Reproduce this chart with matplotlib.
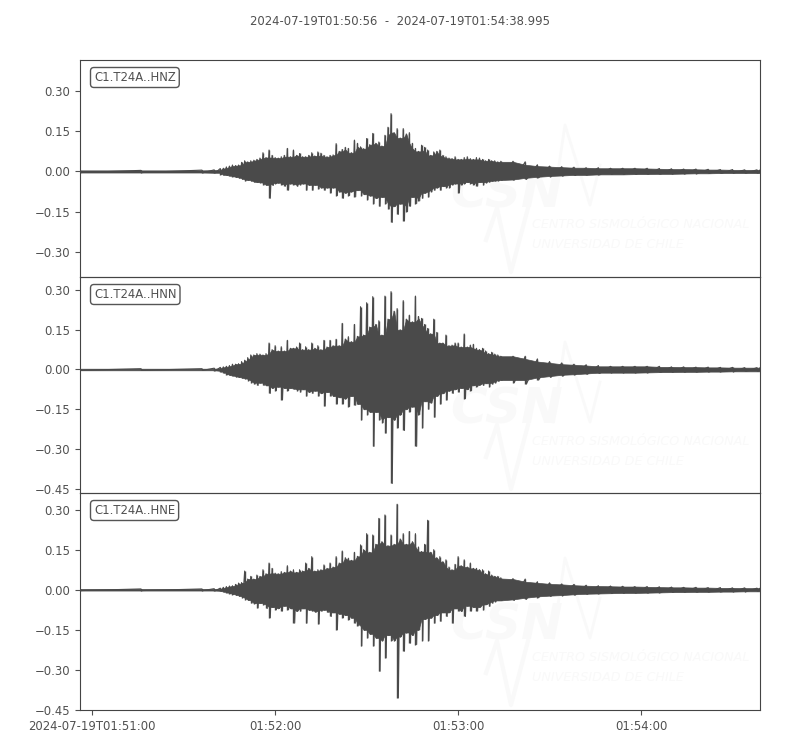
#!/usr/bin/env python3
import numpy as np
import matplotlib
matplotlib.use("Agg")
import matplotlib.pyplot as plt
from matplotlib.lines import Line2D

TRACE = "#4a4a4a"
TEXT = "#505050"
MARK = "#f9f9f9"

title = "2024-07-19T01:50:56  -  2024-07-19T01:54:38.995"
stations = ["C1.T24A..HNZ", "C1.T24A..HNN", "C1.T24A..HNE"]
time_ticks = [4, 64, 124, 184]
time_labels = ["2024-07-19T01:51:00", "01:52:00", "01:53:00", "01:54:00"]

# seconds after 01:50:56, envelope
seconds = ([0, 20, 40, 44] + list(range(46, 140, 2))
           + list(range(142, 224, 4)) + [223])
seconds_odd = list(range(47, 139, 2))

hnz_up = [.004, .004, .005, .006,
          .011, .017, .024, .024, .04, .04, .045, .07, .08, .052,
          .055, .086, .08, .067, .055, .07, .073, .06, .06, .104,
          .082, .086, .117, .092, .123, .142, .11, .135, .216, .16,
          .16, .145, .086, .098, .08, .073, .08, .055, .048, .045,
          .052, .048, .052, .045, .045, .04, .038,
          .038, .036, .025, .02, .018, .016, .014, .014, .012, .012, .012,
          .012, .011, .01, .009, .009, .008, .007, .007, .006, .006, .006]
hnz_lo = [-.004, -.004, -.005, -.005,
          -.012, -.015, -.02, -.025, -.035, -.037, -.04, -.05, -.10, -.045,
          -.05, -.07, -.05, -.05, -.07, -.07, -.065, -.07, -.08, -.09,
          -.10, -.09, -.095, -.09, -.105, -.12, -.13, -.12, -.19, -.16,
          -.185, -.13, -.12, -.10, -.095, -.07, -.07, -.06, -.05, -.08,
          -.045, -.045, -.055, -.05, -.04, -.035, -.033,
          -.032, -.03, -.024, -.02, -.017, -.015, -.013, -.013, -.011, -.011,
          -.011, -.01, -.01, -.009, -.009, -.008, -.007, -.007, -.006, -.006,
          -.006, -.006]
hnz_up_odd = [.012, .02, .022, .034, .036, .042, .05, .052, .06, .05,
              .06, .055, .06, .055, .06, .058, .068, .055, .062, .075,
              .09, .07, .105, .085, .10, .105, .095, .165, .145, .125,
              .14, .105, .075, .09, .06, .075, .06, .05, .055, .045,
              .055, .045, .05, .04, .04, .036]
hnz_lo_odd = [-.013, -.017, -.022, -.03, -.032, -.04, -.042, -.05, -.052, -.042,
              -.055, -.045, -.055, -.045, -.05, -.05, -.06, -.06, -.06, -.075,
              -.08, -.075, -.07, -.085, -.09, -.10, -.095, -.14, -.13, -.12,
              -.15, -.095, -.11, -.08, -.075, -.06, -.055, -.06, -.045, -.05,
              -.04, -.05, -.04, -.042, -.036, -.034]

hnn_up = [.003, .003, .003, .005,
          .008, .012, .02, .022, .035, .055, .06, .055, .10, .09,
          .086, .11, .08, .10, .086, .10, .09, .11, .11, .114,
          .174, .124, .17, .237, .252, .275, .184, .277, .294, .23,
          .26, .205, .277, .193, .155, .19, .10, .13, .092, .10,
          .134, .092, .08, .08, .06, .058, .05,
          .05, .05, .04, .03, .025, .02, .018, .015, .012, .012, .012,
          .012, .012, .01, .01, .009, .009, .008, .008, .007, .007, .007]
hnn_lo = [-.003, -.003, -.003, -.005,
          -.01, -.02, -.025, -.03, -.035, -.05, -.06, -.06, -.09, -.08,
          -.115, -.08, -.075, -.085, -.10, -.09, -.10, -.138, -.10, -.13,
          -.13, -.14, -.135, -.19, -.17, -.29, -.19, -.24, -.43, -.22,
          -.23, -.16, -.29, -.22, -.15, -.18, -.13, -.115, -.09, -.085,
          -.11, -.08, -.065, -.06, -.065, -.05, -.04,
          -.05, -.055, -.04, -.03, -.025, -.02, -.018, -.015, -.012, -.012,
          -.012, -.012, -.011, -.01, -.01, -.009, -.009, -.008, -.008, -.007,
          -.007, -.007]
hnn_up_odd = [.01, .015, .02, .03, .045, .055, .058, .06, .075, .07,
              .07, .08, .085, .075, .075, .08, .075, .085, .09, .09,
              .115, .105, .125, .13, .16, .17, .13, .19, .22, .15,
              .19, .18, .20, .17, .135, .14, .10, .09, .10, .085,
              .085, .095, .075, .07, .065, .055]
hnn_lo_odd = [-.014, -.022, -.028, -.033, -.042, -.055, -.05, -.06, -.07, -.065,
              -.07, -.07, -.08, -.075, -.085, -.08, -.09, -.085, -.10, -.105,
              -.11, -.10, -.13, -.15, -.16, -.16, -.20, -.18, -.19, -.17,
              -.15, -.14, -.17, -.12, -.125, -.10, -.09, -.08, -.075, -.07,
              -.075, -.06, -.058, -.052, -.055, -.045]

hne_up = [.003, .003, .003, .004,
          .006, .012, .015, .025, .07, .05, .055, .075, .10, .062,
          .068, .09, .075, .075, .10, .124, .075, .093, .10, .124,
          .145, .118, .14, .168, .21, .205, .267, .28, .205, .32,
          .21, .218, .21, .143, .26, .15, .124, .112, .075, .124,
          .112, .10, .08, .075, .07, .05, .045,
          .042, .04, .03, .026, .022, .02, .017, .015, .014, .013, .012,
          .012, .011, .01, .009, .009, .008, .008, .007, .007, .006, .006]
hne_lo = [-.003, -.003, -.003, -.004,
          -.006, -.012, -.018, -.025, -.037, -.05, -.068, -.056, -.105, -.075,
          -.08, -.075, -.125, -.08, -.125, -.08, -.128, -.075, -.10, -.15,
          -.105, -.112, -.125, -.21, -.18, -.21, -.305, -.255, -.19, -.405,
          -.23, -.20, -.205, -.19, -.19, -.125, -.118, -.10, -.125, -.08,
          -.10, -.08, -.08, -.075, -.062, -.044, -.04,
          -.04, -.036, -.03, -.025, -.022, -.02, -.017, -.015, -.014, -.013,
          -.012, -.012, -.011, -.01, -.009, -.009, -.008, -.008, -.007, -.007,
          -.006, -.006]
hne_up_odd = [.009, .014, .02, .027, .04, .04, .05, .06, .08, .06,
              .065, .07, .065, .07, .08, .07, .075, .08, .085, .10,
              .12, .11, .125, .15, .14, .17, .18, .165, .17, .19,
              .17, .18, .16, .17, .14, .12, .105, .085, .095, .09,
              .085, .08, .075, .06, .055, .05]
hne_lo_odd = [-.009, -.015, -.021, -.03, -.04, -.052, -.05, -.07, -.065, -.07,
              -.06, -.07, -.08, -.07, -.075, -.085, -.08, -.085, -.085, -.09,
              -.095, -.105, -.135, -.15, -.165, -.18, -.19, -.17, -.19, -.175,
              -.16, -.17, -.15, -.11, -.105, -.095, -.085, -.085, -.07, -.08,
              -.06, -.065, -.065, -.055, -.05, -.04]

ups = [hnz_up, hnn_up, hne_up]
los = [hnz_lo, hnn_lo, hne_lo]
ups_odd = [hnz_up_odd, hnn_up_odd, hne_up_odd]
los_odd = [hnz_lo_odd, hnn_lo_odd, hne_lo_odd]
y_limits = [(-0.394, 0.416), (-0.466, 0.349), (-0.448, 0.362)]
y_ticks = [[0.30, 0.15, 0.0, -0.15, -0.30],
           [0.30, 0.15, 0.0, -0.15, -0.30, -0.45],
           [0.30, 0.15, 0.0, -0.15, -0.30, -0.45]]

W, H = 800, 750
panels_px = [(60, 277), (277, 493), (493, 710)]


def core(values, pick):
    # body of the trace: the smaller of each reading and its neighbours
    v = np.asarray(values)
    left = np.r_[v[0], v[:-1]]
    right = np.r_[v[1:], v[-1]]
    return pick(pick(v, left), right)


def mark_line(fig, xs, ys, lw):
    line = Line2D(np.array(xs) / W, 1 - np.array(ys) / H, color=MARK, lw=lw,
                  transform=fig.transFigure, zorder=-1)
    fig.add_artist(line)


def watermark(fig, dy):
    # faint logo behind each panel
    fig.text(450 / W, 1 - (207 + dy) / H, "CSN", color=MARK, fontsize=36,
             fontweight="bold", style="italic", zorder=-1)
    mark_line(fig, [553, 565, 590, 600], [205 + dy, 125 + dy, 205 + dy, 165 + dy], 2)
    mark_line(fig, [486, 497, 511, 528], [240 + dy, 208 + dy, 272 + dy, 208 + dy], 3)
    fig.text(532 / W, 1 - (228 + dy) / H, "CENTRO SISMOLÓGICO NACIONAL", color=MARK,
             fontsize=9.2, style="italic", zorder=-1)
    fig.text(532 / W, 1 - (248 + dy) / H, "UNIVERSIDAD DE CHILE", color=MARK,
             fontsize=9.2, style="italic", zorder=-1)


fig = plt.figure(figsize=(8, 7.5), dpi=100)

for i, (top, bottom) in enumerate(panels_px):
    ax = fig.add_axes([80 / W, 1 - bottom / H, 680 / W, (bottom - top) / H])
    ax.patch.set_alpha(0)
    t = np.array(seconds + seconds_odd, dtype=float)
    order = np.argsort(t)
    t = t[order]
    up = np.array(ups[i] + ups_odd[i])[order]
    lo = np.array(los[i] + los_odd[i])[order]

    ax.fill_between(t, core(lo, np.maximum), core(up, np.minimum),
                    color=TRACE, lw=0.5, zorder=2)
    ax.vlines(t, lo, up, color=TRACE, lw=1.0, zorder=3)
    zig_t = np.column_stack([t, t + 0.4]).ravel()
    zig_y = np.column_stack([up, lo]).ravel()
    ax.plot(zig_t, zig_y, color=TRACE, lw=0.8, zorder=3)

    ax.set_xlim(0, 222.995)
    ax.set_ylim(*y_limits[i])
    ax.set_yticks(y_ticks[i])
    ax.set_yticklabels([f"{v:.2f}".replace("-", "\u2212") for v in y_ticks[i]])
    ax.tick_params(axis="y", colors=TEXT, labelsize=8.4, length=3.5, width=0.8)
    if i == 2:
        ax.set_xticks(time_ticks)
        ax.set_xticklabels(time_labels)
        ax.tick_params(axis="x", colors=TEXT, labelsize=8.4, length=3.5, width=0.8)
    else:
        ax.set_xticks([])
    for spine in ax.spines.values():
        spine.set_color("#444444")
        spine.set_linewidth(0.8)
    ax.text(14 / 680, 1 - 17.5 / (bottom - top), stations[i], transform=ax.transAxes,
            fontsize=8.4, color=TEXT, va="center", ha="left", zorder=5,
            bbox=dict(boxstyle="round,pad=0.3", fc="white", ec="#555555", lw=1))
    watermark(fig, top - 60)

fig.text(0.5, 1 - 21.5 / H, title, ha="center", va="center", fontsize=8.4, color=TEXT)
fig.savefig("out.png", dpi=100)
